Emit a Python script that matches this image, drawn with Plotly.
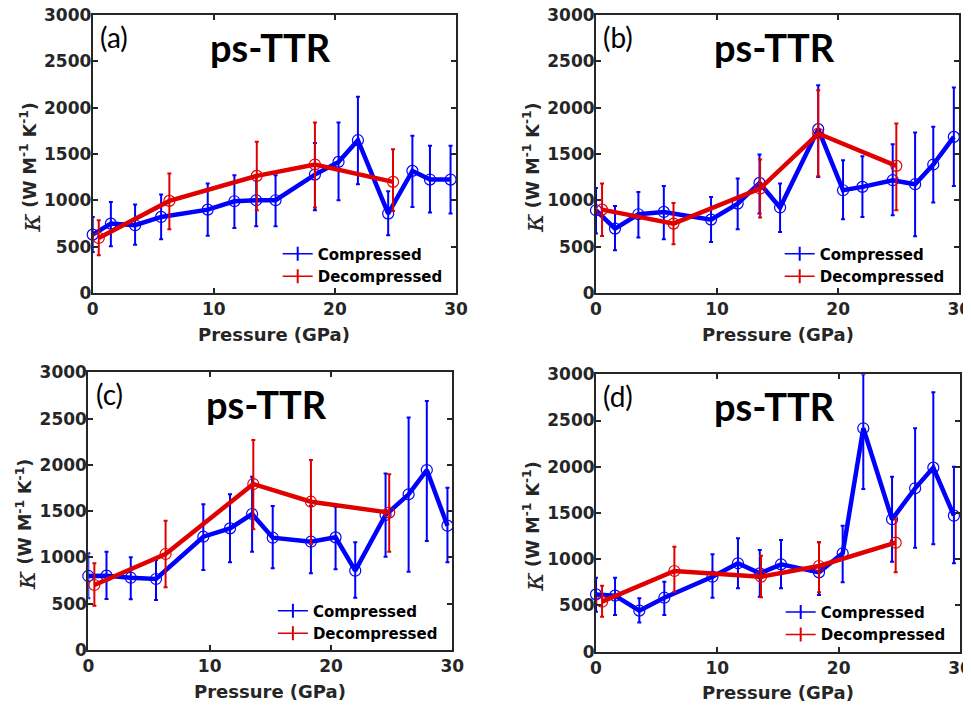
import plotly.graph_objects as go

# ---------------- data ----------------
panel_labels = ["(a)", "(b)", "(c)", "(d)"]
panel_title = "ps-TTR"
series_names = ["Compressed", "Decompressed"]
x_ticks = [0, 10, 20, 30]
y_ticks = [0, 500, 1000, 1500, 2000, 2500, 3000]

# Panel (a)
a_comp_p = [0.0, 1.5, 3.5, 5.65, 9.5, 11.7, 13.5, 15.1, 18.35, 20.3, 21.9, 24.4, 26.4, 27.85, 29.55]
a_comp_k = [630, 749, 731, 821, 900, 990, 1001, 1001, 1278, 1415, 1649, 857, 1318, 1224, 1224]
a_comp_hi = [820, 983, 954, 1062, 1181, 1271, 1271, 1271, 1620, 1840, 2117, 1098, 1696, 1588, 1588]
a_comp_lo = [443, 504, 522, 580, 619, 702, 720, 720, 893, 1001, 1174, 623, 929, 868, 857]
a_dec_p = [0.5, 6.33, 13.55, 18.35, 24.8]
a_dec_k = [594, 994, 1264, 1386, 1199]
a_dec_hi = [785, 1289, 1631, 1840, 1552]
a_dec_lo = [407, 688, 893, 922, 886]

# Panel (b)
b_comp_p = [0.0, 1.57, 3.5, 5.6, 9.5, 11.7, 13.5, 15.2, 18.35, 20.4, 22.0, 24.5, 26.35, 27.85, 29.55]
b_comp_k = [893, 695, 850, 875, 792, 965, 1188, 922, 1768, 1109, 1145, 1217, 1174, 1386, 1685]
b_comp_hi = [1134, 940, 1091, 1156, 1037, 1235, 1494, 1181, 2243, 1433, 1476, 1606, 1732, 1793, 2218]
b_comp_lo = [641, 461, 598, 580, 551, 688, 857, 659, 1253, 796, 821, 839, 612, 976, 1156]
b_dec_p = [0.5, 6.4, 13.55, 18.35, 24.8]
b_dec_k = [900, 749, 1127, 1721, 1372]
b_dec_hi = [1181, 972, 1440, 2189, 1829]
b_dec_lo = [616, 526, 814, 1260, 893]

# Panel (c)
c_comp_p = [0.0, 1.5, 3.5, 5.58, 9.48, 11.68, 13.5, 15.2, 18.35, 20.38, 22.0, 24.5, 26.4, 27.9, 29.6]
c_comp_k = [800, 803, 781, 767, 1224, 1314, 1469, 1213, 1170, 1217, 857, 1458, 1682, 1944, 1343]
c_comp_hi = [1044, 1062, 1001, 972, 1574, 1682, 1872, 1556, 1559, 1548, 1163, 1908, 2513, 2690, 1754]
c_comp_lo = [558, 551, 547, 540, 864, 947, 1062, 882, 828, 871, 565, 1008, 846, 1177, 947]
c_dec_p = [0.5, 6.37, 13.6, 18.35, 24.8]
c_dec_k = [702, 1037, 1793, 1602, 1484]
c_dec_hi = [936, 1397, 2268, 2052, 1898]
c_dec_lo = [479, 677, 1304, 1145, 1062]

# Panel (d)
d_comp_p = [0.0, 1.57, 3.57, 5.63, 9.6, 11.7, 13.5, 15.25, 18.38, 20.33, 22.03, 24.4, 26.3, 27.8, 29.5]
d_comp_k = [620, 606, 444, 584, 811, 956, 847, 945, 858, 1064, 2416, 1432, 1767, 1991, 1471]
d_comp_hi = [800, 800, 577, 757, 1053, 1226, 1100, 1208, 1183, 1363, 3000, 1893, 2416, 2806, 2001]
d_comp_lo = [433, 397, 317, 397, 584, 685, 595, 685, 613, 750, 1760, 974, 1125, 1161, 956]
d_dec_p = [0.5, 6.46, 13.6, 18.38, 24.7]
d_dec_k = [541, 873, 811, 927, 1179]
d_dec_hi = [714, 1136, 1039, 1183, 1435]
d_dec_lo = [379, 649, 588, 642, 858]

# ---------------- styling ----------------
BLUE = "#0000FF"
RED = "#E00000"
AXC = "#262626"
OFF = 8                      # page body margin of the browser
W, H = 971 - OFF, 707 - OFF  # figure size that fits the window


def fx(px):
    return (px - OFF) / W


def fy(py):
    return 1 - (py - OFF) / H


# panel boxes in window pixels: (left, right, top, bottom), legend (left, top)
boxes = [
    ((92.7, 456.0, 15.0, 293.0), (277.7, 237.5)),
    ((596.0, 959.3, 15.0, 293.0), (779.7, 237.5)),
    ((88.3, 452.3, 372.3, 650.0), (272.9, 594.5)),
    ((596.0, 960.0, 374.3, 651.7), (780.7, 595.8)),
]
data = [
    ((a_comp_p, a_comp_k, a_comp_hi, a_comp_lo), (a_dec_p, a_dec_k, a_dec_hi, a_dec_lo)),
    ((b_comp_p, b_comp_k, b_comp_hi, b_comp_lo), (b_dec_p, b_dec_k, b_dec_hi, b_dec_lo)),
    ((c_comp_p, c_comp_k, c_comp_hi, c_comp_lo), (c_dec_p, c_dec_k, c_dec_hi, c_dec_lo)),
    ((d_comp_p, d_comp_k, d_comp_hi, d_comp_lo), (d_dec_p, d_dec_k, d_dec_hi, d_dec_lo)),
]

fig = go.Figure()
annotations = []
layout = dict(
    width=W, height=H, margin=dict(l=0, r=0, t=0, b=0, autoexpand=False),
    plot_bgcolor="white", paper_bgcolor="white",
    showlegend=True,
)


def err(vals, hi, lo):
    return dict(type="data", symmetric=False,
                array=[h - v for h, v in zip(hi, vals)],
                arrayminus=[v - l for v, l in zip(vals, lo)])


for i, ((box, leg), (comp, dec)) in enumerate(zip(boxes, data)):
    n = "" if i == 0 else str(i + 1)
    xa, ya = "x" + n, "y" + n
    legname = "legend" + n
    for (p, k, hi, lo), color, name in [(comp, BLUE, series_names[0]),
                                         (dec, RED, series_names[1])]:
        fig.add_trace(go.Scatter(
            x=p, y=k, mode="lines+markers", xaxis=xa, yaxis=ya,
            line=dict(color=color, width=4.5),
            marker=dict(symbol="circle-open", size=11, color=color, line=dict(width=1.2, color=color)),
            error_y=dict(err(k, hi, lo), color=color, thickness=2, width=2),
            cliponaxis=False, showlegend=False, name=name))
    for color, name in [(BLUE, series_names[0]), (RED, series_names[1])]:
        fig.add_trace(go.Scatter(
            x=[None], y=[None], mode="lines+markers", xaxis=xa, yaxis=ya,
            line=dict(color=color, width=1.5),
            marker=dict(symbol="line-ns-open", size=10, color=color, line=dict(width=2, color=color)),
            name=name, legend=legname, showlegend=True))

    l, r, t, b = box
    axcommon = dict(showline=True, linecolor=AXC, linewidth=2, mirror="allticks",
                    ticks="inside", ticklen=5, tickwidth=1.5, tickcolor=AXC,
                    showgrid=False, zeroline=False, automargin=False,
                    ticklabeloverflow="allow",
                    tickfont=dict(family="DejaVu Sans", size=17, color=AXC, weight="bold"))
    layout["xaxis" + n] = dict(axcommon, domain=[fx(l), fx(r)], range=[0, 30], tickvals=x_ticks,
                               anchor=ya)
    layout["yaxis" + n] = dict(axcommon, domain=[fy(b), fy(t)], range=[0, 3000], tickvals=y_ticks,
                               anchor=xa, ticklabelstandoff=-4)
    layout[legname] = dict(x=fx(leg[0]), y=fy(leg[1]), xanchor="left", yanchor="top",
                           bgcolor="rgba(0,0,0,0)", borderwidth=0,
                           font=dict(family="DejaVu Sans", size=15, color="black", weight="bold"),
                           tracegroupgap=0)

    xdr, ydr = xa + " domain", ya + " domain"
    annotations += [
        dict(text=panel_labels[i], xref=xdr, yref=ydr, x=0.015, y=0.922, xanchor="left", yanchor="middle",
             showarrow=False, font=dict(family="Lato", size=28, color="black")),
        dict(text="<b>" + panel_title + "</b>", xref=xdr, yref=ydr, x=0.49, y=0.885,
             xanchor="center", yanchor="middle", showarrow=False,
             font=dict(family="Lato", size=38, color="black")),
        dict(text="<i>κ</i>", xref=xdr, yref=ydr, x=-0.172, y=0.25, xanchor="center", yanchor="middle",
             textangle=-90, showarrow=False,
             font=dict(family="DejaVu Serif", size=28, color=AXC)),
        dict(text="<b>(W M<sup>-1</sup> K<sup>-1</sup>)</b>",
             xref=xdr, yref=ydr, x=-0.178, y=0.497, xanchor="center", yanchor="middle",
             textangle=-90, showarrow=False,
             font=dict(family="DejaVu Sans", size=17.5, color=AXC)),
        dict(text="<b>Pressure (GPa)</b>", xref=xdr, yref=ydr, x=0.5, y=-0.148,
             xanchor="center", yanchor="middle", showarrow=False,
             font=dict(family="DejaVu Sans", size=18, color=AXC)),
    ]

layout["annotations"] = annotations
fig.update_layout(**layout)
fig.write_html("out.html")
